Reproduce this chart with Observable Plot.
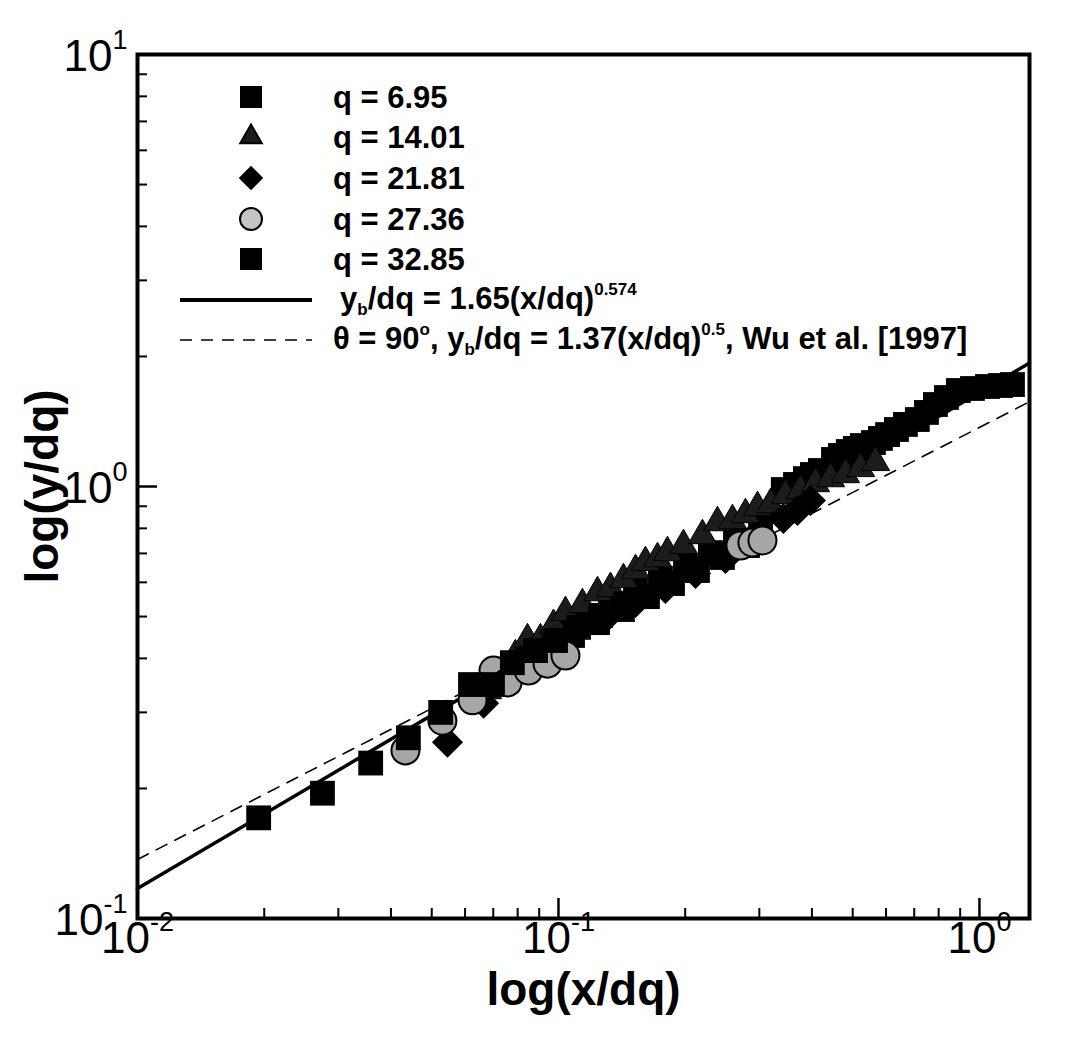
<!DOCTYPE html>
<html><head><meta charset="utf-8">
<script src="https://cdn.jsdelivr.net/npm/d3@7"></script>
<script src="https://cdn.jsdelivr.net/npm/@observablehq/plot@0.6"></script>
<style>
html,body{margin:0;padding:0;background:#fff;}
#chart{position:relative;width:1086px;height:1042px;}
</style></head><body><div id="chart"></div>
<script>
// ---- data ----
const q695X = [0.1011,0.1080,0.1159,0.1238,0.1329,0.1419,0.1524,0.1627,0.1747,0.1866,0.2003,0.2139,0.2296,0.2452,0.2633,0.2812,0.302,0.342,0.3656,0.386,0.4011,0.419,0.450,0.4675,0.488,0.5075,0.527,0.560,0.5818,0.605,0.6352,0.667,0.712,0.7484,0.786,0.8348,0.891,0.9625,1.045,1.122,1.198];
const q695Y = [0.466,0.452,0.500,0.484,0.536,0.519,0.574,0.556,0.613,0.596,0.656,0.639,0.703,0.685,0.750,0.730,0.812,0.984,1.011,1.043,1.066,1.089,1.155,1.180,1.205,1.225,1.244,1.264,1.292,1.319,1.355,1.392,1.429,1.484,1.548,1.607,1.668,1.686,1.704,1.713,1.722];
const q1401X = [0.0678,0.0740,0.0790,0.0844,0.0906,0.0973,0.1039,0.1140,0.1238,0.1329,0.1427,0.1524,0.1609,0.1719,0.1815,0.1981,0.2198,0.2386,0.2590,0.2781,0.2970,0.3189,0.3462,0.3756,0.4078,0.4427,0.4805,0.5216,0.5662];
const q1401Y = [0.337,0.371,0.406,0.442,0.442,0.477,0.511,0.533,0.568,0.581,0.609,0.639,0.667,0.681,0.703,0.730,0.770,0.825,0.834,0.861,0.894,0.908,0.953,0.979,1.016,1.043,1.066,1.101,1.137];
const q2181X = [0.0545,0.0664,0.0812,0.0947,0.1097,0.1293,0.1524,0.1795,0.2116,0.2493,0.2937,0.3423,0.3696,0.3968];
const q2181Y = [0.256,0.315,0.396,0.428,0.457,0.495,0.539,0.581,0.629,0.681,0.750,0.843,0.880,0.928];
const q2736X = [0.0433,0.0530,0.0625,0.0701,0.0757,0.0849,0.0942,0.1039,0.2706,0.2889,0.3052];
const q2736Y = [0.245,0.287,0.320,0.375,0.352,0.375,0.389,0.406,0.730,0.742,0.750];
const q3285X = [0.0194,0.0275,0.0358,0.0440,0.0525,0.0618,0.0697,0.0777,0.0882,0.0984,0.1116,0.1259,0.1442];
const q3285Y = [0.171,0.195,0.229,0.262,0.300,0.348,0.348,0.391,0.417,0.440,0.472,0.503,0.536];

// fitted correlations (end points of the straight log-log lines)
const fitX = [0.01, 1.315];
const fitSolidY = [0.1173, 1.931];   // y_b/dq = 1.65 (x/dq)^0.574
const fitDashedY = [0.137, 1.571];   // y_b/dq = 1.37 (x/dq)^0.5

const xMajor = [0.01, 0.1, 1];
const xMajorLabels = ["10^-2", "10^-1", "10^0"];
const xMinor = [0.02,0.03,0.04,0.05,0.06,0.07,0.08,0.09,0.2,0.3,0.4,0.5,0.6,0.7,0.8,0.9];
const yMajor = [0.1, 1, 10];
const yMajorLabels = ["10^-1", "10^0", "10^1"];
const yMinor = [0.2,0.3,0.4,0.5,0.6,0.7,0.8,0.9,2,3,4,5,6,7,8,9];

const legendLabels = ["q = 6.95", "q = 14.01", "q = 21.81", "q = 27.36", "q = 32.85"];

const rows = (xs, ys) => xs.map((x, i) => ({x, y: ys[i]}));

const W = 1086, H = 1042, mL = 137, mR = 57, mT = 54, mB = 124;
const innerW = W - mL - mR, innerH = H - mT - mB;
const tickFont = "'Liberation Sans Narrow', 'Liberation Sans', Arial, sans-serif";
const triFill = "#1c1c1c", circFill = "#a6a6a6";

const plot = Plot.plot({
  width: W, height: H,
  marginLeft: mL, marginRight: mR, marginTop: mT, marginBottom: mB,
  x: {type: "log", domain: [0.01, 1.315], axis: null},
  y: {type: "log", domain: [0.1, 10], axis: null},
  style: {background: "white", fontFamily: "'Liberation Sans', Arial, sans-serif", overflow: "visible"},
  marks: [
    // inward ticks
    Plot.ruleX(xMinor, {x: d => d, insetTop: innerH - 10, stroke: "black", strokeWidth: 2}),
    Plot.ruleX(xMajor, {x: d => d, insetTop: innerH - 20, stroke: "black", strokeWidth: 2.5}),
    Plot.ruleY(yMinor, {y: d => d, insetRight: innerW - 10, stroke: "black", strokeWidth: 2}),
    Plot.ruleY(yMajor, {y: d => d, insetRight: innerW - 20, stroke: "black", strokeWidth: 2.5}),
    // fitted lines
    Plot.line(rows(fitX, fitDashedY), {x: "x", y: "y", stroke: "black", strokeWidth: 1.6, strokeDasharray: "12,9"}),
    Plot.line(rows(fitX, fitSolidY), {x: "x", y: "y", stroke: "black", strokeWidth: 3.5}),
    // data, in series order (last on top)
    Plot.dot(rows(q695X, q695Y), {x: "x", y: "y", symbol: "square", r: 14, fill: "black"}),
    Plot.dot(rows(q1401X, q1401Y), {x: "x", y: "y", symbol: "triangle", r: 10.5, fill: triFill, stroke: "black", strokeWidth: 1}),
    Plot.dot(rows(q2181X, q2181Y), {x: "x", y: "y", symbol: "diamond2", r: 14, fill: "black"}),
    Plot.dot(rows(q2736X, q2736Y), {x: "x", y: "y", symbol: "circle", r: 14, fill: circFill, stroke: "black", strokeWidth: 2}),
    Plot.dot(rows(q3285X, q3285Y), {x: "x", y: "y", symbol: "square", r: 14, fill: "black"}),
    // tick labels
    Plot.text(xMajor, {x: d => d, frameAnchor: "bottom", text: (d, i) => xMajorLabels[i], dy: 34, fontSize: 44, fontFamily: tickFont, fill: "black"}),
    Plot.text(yMajor, {y: d => d, frameAnchor: "left", text: (d, i) => yMajorLabels[i], textAnchor: "end", dx: -10, dy: 2, fontSize: 44, fontFamily: tickFont, fill: "black"}),
    // axis titles
    Plot.text(["log(x/dq)"], {frameAnchor: "bottom", text: d => d, dy: 86, fontSize: 46, fontWeight: "bold", fill: "black"}),
    Plot.text(["log(y/dq)"], {frameAnchor: "left", text: d => d, textAnchor: "middle", rotate: -90, dx: -94, fontSize: 46, fontWeight: "bold", fill: "black"}),
    Plot.frame({stroke: "black", strokeWidth: 4})
  ]
});
document.getElementById("chart").appendChild(plot);

// superscripts for tick labels
plot.querySelectorAll("text").forEach(t => {
  const s = t.textContent;
  if (s.includes("^")) {
    const [b, e] = s.split("^");
    t.textContent = "";
    const sel = d3.select(t);
    sel.append("tspan").text(b);
    sel.append("tspan").attr("dy", -22).attr("font-size", 27).text(e);
  }
});

// legend (inside the frame, upper left)
const svg = d3.select(plot);
const lg = svg.append("g").attr("font-family", "'Liberation Sans', Arial, sans-serif").attr("font-weight", "bold")
  .attr("font-size", 31).attr("fill", "black").attr("text-anchor", "start");
const rowY = [97, 137, 178, 219, 259];
const legendSymbols = [
  {type: d3.symbolSquare, size: 22 * 22, fill: "black", stroke: "none"},
  {type: d3.symbolTriangle, size: 200, fill: triFill, stroke: "black"},
  {type: d3.symbolDiamond2, size: 380, fill: "black", stroke: "none"},
  {type: d3.symbolCircle, size: Math.PI * 11 * 11, fill: "#c4c4c4", stroke: "black"},
  {type: d3.symbolSquare, size: 22 * 22, fill: "black", stroke: "none"}
];
legendLabels.forEach((lab, i) => {
  const s = legendSymbols[i];
  lg.append("path").attr("d", d3.symbol(s.type, s.size)()).attr("transform", `translate(251,${rowY[i]})`)
    .attr("fill", s.fill).attr("stroke", s.stroke).attr("stroke-width", 2);
  lg.append("text").attr("x", 333).attr("y", rowY[i] + 11).text(lab);
});
lg.append("line").attr("x1", 180).attr("x2", 312).attr("y1", 300).attr("y2", 300).attr("stroke", "black").attr("stroke-width", 4);
lg.append("line").attr("x1", 180).attr("x2", 312).attr("y1", 340).attr("y2", 340).attr("stroke", "black").attr("stroke-width", 1.6).attr("stroke-dasharray", "12,9");
const t1 = lg.append("text").attr("x", 340).attr("y", 309);
t1.append("tspan").text("y");
t1.append("tspan").attr("font-size", 17).attr("dy", 6).text("b");
t1.append("tspan").attr("dy", -6).text("/dq = 1.65(x/dq)");
t1.append("tspan").attr("font-size", 17).attr("dy", -14).text("0.574");
const t2 = lg.append("text").attr("x", 333).attr("y", 349);
t2.append("tspan").text("θ = 90");
t2.append("tspan").attr("font-size", 17).attr("dy", -14).text("o");
t2.append("tspan").attr("dy", 14).text(", y");
t2.append("tspan").attr("font-size", 17).attr("dy", 6).text("b");
t2.append("tspan").attr("dy", -6).text("/dq = 1.37(x/dq)");
t2.append("tspan").attr("font-size", 17).attr("dy", -14).text("0.5");
t2.append("tspan").attr("dy", 14).text(", Wu et al. [1997]");
</script>
</body></html>
